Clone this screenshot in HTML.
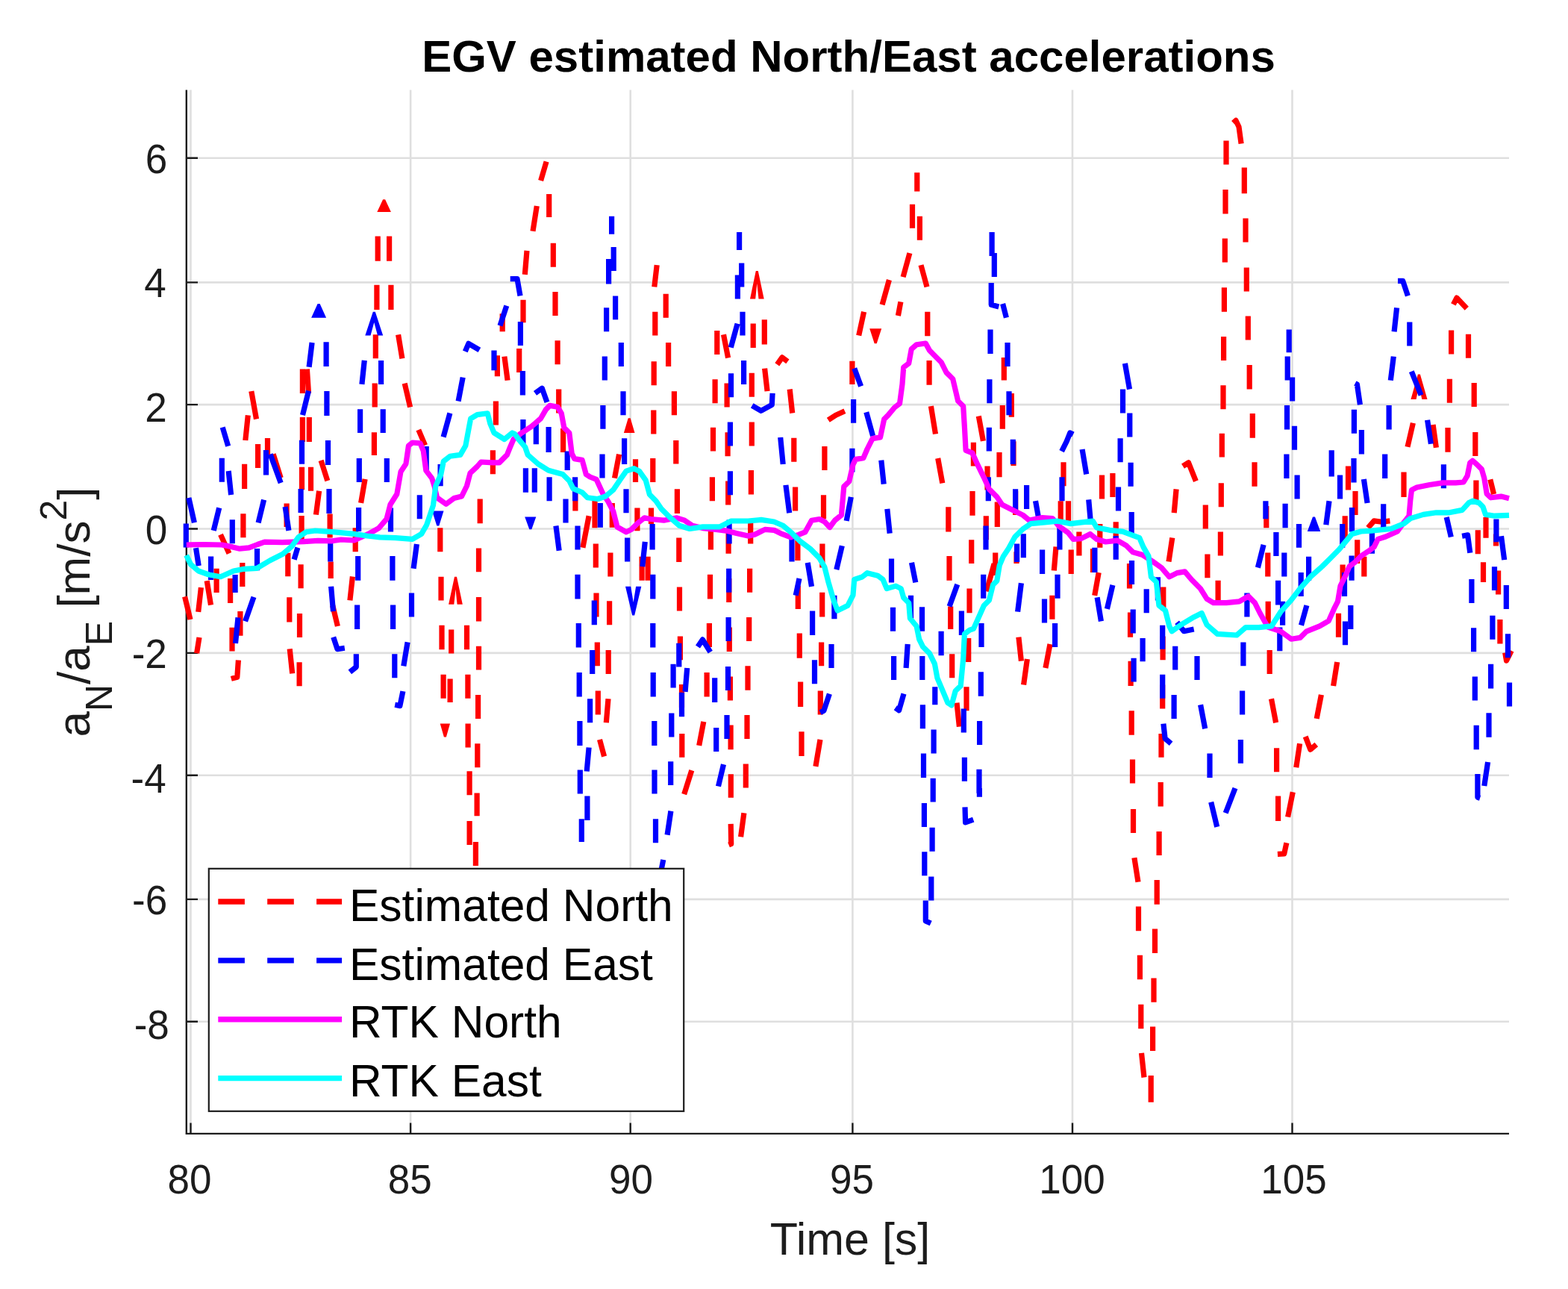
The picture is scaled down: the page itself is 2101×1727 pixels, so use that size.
<!DOCTYPE html><html><head><meta charset="utf-8"><title>EGV estimated North/East accelerations</title><style>html,body{margin:0;padding:0;background:#fff;overflow:hidden}svg{display:block}</style></head><body><svg width="2101" height="1727" viewBox="0 0 2101 1727"><rect width="2101" height="1727" fill="#fff"/><path d="M255.5 120.5V1518.9M550.1 120.5V1518.9M844.7 120.5V1518.9M1142.4 120.5V1518.9M1437.0 120.5V1518.9M1731.5 120.5V1518.9M249.8 1368.7H2022.0M249.8 1204.9H2022.0M249.8 1038.7H2022.0M249.8 874.9H2022.0M249.8 708.5H2022.0M249.8 542.1H2022.0M249.8 378.4H2022.0M249.8 211.8H2022.0" stroke="#dfdfdf" stroke-width="2.6" fill="none"/><path d="M249.8 120.5V1518.9M248.60000000000002 1518.9H2022.0M255.5 1518.9v-14.5M550.1 1518.9v-14.5M844.7 1518.9v-14.5M1142.4 1518.9v-14.5M1437.0 1518.9v-14.5M1731.5 1518.9v-14.5M249.8 1368.7h15.2M249.8 1204.9h15.2M249.8 1038.7h15.2M249.8 874.9h15.2M249.8 708.5h15.2M249.8 542.1h15.2M249.8 378.4h15.2M249.8 211.8h15.2" stroke="#1c1c1c" stroke-width="2.4" fill="none"/><path d="M405.4 494.4L405.4 526.9M411.4 494.4L413.5 526.9M336.8 524.2L343.5 561.5M328.8 590.0L332.3 556.4M405.4 559.1L405.4 592.1M414.3 559.1L414.3 592.1M247.6 799.4L255.0 830.0M265.7 819.9L269.4 787.1M277.2 778.1L282.5 810.6M290.1 761.8L290.1 794.0M308.6 774.9L308.6 807.9M324.8 754.1L324.8 786.1M385.8 740.8L385.8 772.2M403.1 756.2L403.1 788.2M387.8 800.2L387.8 833.5M295.5 716.3L307.0 741.6M384.1 674.4L384.1 706.1M404.5 625.7L404.5 656.3M416.5 625.7L416.5 657.7M423.4 689.6L427.6 657.7M430.1 616.9L438.8 644.1M404.1 691.0L404.1 724.3M345.6 595.1L345.6 627.0M358.5 587.1L358.5 609.7M366.1 608.4L376.2 640.4M327.6 621.7L327.6 655.0M325.9 688.3L325.9 720.3M263.6 875.3L267.0 854.0M311.0 840.7L311.0 872.6M319.4 884.6L317.8 907.2L309.8 909.4M388.2 869.4L391.7 902.4M401.1 887.3L401.1 919.2M401.5 822.0L401.5 854.0M321.9 819.1L321.9 851.8M506.2 316.5L506.2 349.7M521.6 316.5L521.6 349.7M504.9 381.7L504.9 415.0M523.9 381.7L523.9 415.0M503.3 448.3L503.3 480.3M533.6 448.3L538.9 480.3M502.2 513.6L502.2 545.5M542.2 513.6L549.6 545.5M724.6 241.9L732.1 216.6M735.7 260.0L735.7 291.1M714.0 309.8L719.3 276.0M703.3 367.9L706.0 335.9M701.0 401.7L701.0 432.3M695.7 466.9L695.7 498.9M666.4 476.3L666.4 504.2M675.9 477.6L680.1 509.6M673.2 420.3L673.2 444.3M664.4 537.5L664.4 569.5M501.4 579.3L501.4 610.0M483.6 673.9L489.1 641.9M476.2 707.2L476.2 739.2M468.9 804.4L472.4 772.5M445.7 811.1L452.4 839.0M442.1 688.6L442.1 720.5M443.2 752.5L443.2 775.1M589.8 707.2L589.8 739.2M643.2 668.6L643.2 701.3M641.5 734.4L641.5 766.3M641.5 799.9L641.5 832.4M641.5 865.7L641.5 897.6M640.6 930.9L640.6 962.9M639.8 996.2L639.8 1028.2M660.4 603.3L660.4 635.3M591.0 772.7L591.0 804.4M592.0 837.7L592.0 870.2M604.7 843.6L604.7 875.5M625.5 837.7L625.5 870.2M594.1 903.8L594.1 935.7M603.1 909.6L603.1 941.1M626.9 903.8L626.9 935.7M627.1 969.6L627.1 1001.5M560.8 575.9L569.6 596.7M629.1 1033.3L629.1 1065.3M639.1 1062.6L639.1 1093.3M629.1 1099.9L629.1 1131.9M637.4 1127.9L637.4 1159.9M741.3 325.8L741.3 357.7M744.0 391.0L744.0 423.0M747.1 456.3L747.1 488.3M748.7 521.5L748.7 553.5M876.8 384.4L880.2 355.1M892.2 393.7L892.2 425.7M877.8 417.7L877.8 449.6M895.6 459.0L895.6 490.9M876.2 484.3L876.2 516.2M903.4 524.2L903.4 556.2M875.8 549.5L875.8 581.5M960.8 443.0L960.8 474.9M969.5 448.3L975.6 479.5M1009.2 433.6L1009.2 466.1M1024.3 428.3L1024.3 461.6M958.1 508.2L958.1 540.2M974.1 513.6L974.1 545.5M1007.3 499.7L1007.3 531.7M1024.6 493.6L1028.1 524.2M955.5 572.7L955.5 604.6M1007.3 565.5L1007.3 597.5M754.6 574.0L754.6 606.0M770.9 656.6L770.9 684.6M823.5 640.6L829.6 608.6M851.5 615.3L851.5 645.9M874.8 614.0L874.8 645.9M780.9 733.8L789.1 691.2M797.0 669.9L797.0 707.2M820.3 673.9L820.3 706.7M853.9 680.6L853.9 711.2M872.5 680.6L872.5 701.9M798.3 728.5L798.3 760.5M817.9 740.5L817.9 772.5M860.1 745.8L860.1 777.8M868.1 745.8L868.1 777.8M799.0 794.6L799.0 826.5M816.6 805.2L816.6 837.2M800.3 860.4L800.3 892.3M815.2 871.0L815.2 903.0M801.3 925.6L801.3 957.6M812.3 968.2L815.0 936.3M803.5 990.9L809.6 1013.5M905.8 590.0L905.8 621.4M907.4 655.3L907.4 688.0M909.8 720.5L909.8 753.0M910.5 786.6L910.5 818.5M911.4 852.4L911.4 884.3M913.5 917.1L913.5 948.3M913.8 982.9L913.8 1014.8M916.7 1064.1L926.8 1032.2M954.4 639.3L954.4 671.2M952.4 711.2L952.4 736.5M951.5 769.8L951.5 802.6M950.4 835.0L950.4 867.0M947.1 901.1L947.1 933.6M936.7 998.9L942.8 966.9M975.1 579.3L975.1 611.3M975.7 644.6L975.7 676.6M976.1 709.9L976.1 741.8M976.8 775.1L976.8 807.1M977.3 840.4L977.3 872.9M978.4 906.4L978.4 938.4M979.1 971.4L979.1 1004.2M1006.4 630.0L1006.4 662.4M1005.7 696.5L1005.7 728.5M1004.6 761.8L1004.6 793.8M1003.7 827.1L1003.7 859.0M1002.0 892.3L1002.0 924.8M1001.0 958.1L1001.0 990.1M999.3 1023.6L999.3 1055.6M979.3 1037.3L979.3 1068.8M979.2 1103.9L979.7 1130.6L976.5 1131.9M992.6 1121.2L996.9 1089.3M1228.8 231.2L1228.8 256.5M1222.5 273.8L1222.5 305.8M1232.4 289.8L1232.4 321.8M1210.1 371.1L1218.9 339.1M1234.0 355.1L1242.0 384.4M1182.1 408.3L1191.4 375.0M1203.4 423.0L1206.9 404.3M1150.7 449.6L1157.6 417.7M1242.8 417.7L1242.8 450.2M1245.1 482.9L1245.1 515.7M1247.4 544.2L1253.5 581.5M1141.9 483.7L1141.9 514.9M1109.8 562.8L1119.9 556.2L1131.9 550.8M1058.2 521.5L1061.7 553.5M1041.3 488.3L1048.0 478.9L1055.4 484.3M1311.3 557.5L1317.4 590.8M1063.8 586.8L1063.8 618.8M1104.9 598.0L1104.9 630.0M1065.6 652.6L1065.6 684.6M1103.5 663.2L1103.5 695.2M1068.9 720.5L1068.9 751.1M1101.9 728.5L1101.9 760.5M1069.3 784.4L1069.3 815.9M1101.7 793.8L1101.7 826.5M1071.3 848.4L1071.3 881.7M1100.6 860.4L1100.6 892.3M1072.6 913.6L1072.6 946.9M1099.3 925.6L1099.3 957.6M1074.0 980.2L1074.0 1013.0M1092.9 1026.8L1099.0 990.9M1256.7 614.0L1262.8 647.3M1270.8 679.2L1270.8 712.5M1272.0 745.0L1272.0 777.8M1273.7 812.4L1273.7 843.0M1275.7 876.3L1275.7 908.3M1282.0 941.6L1285.4 973.6M1295.0 920.3L1295.0 952.2M1297.7 855.0L1297.7 887.0M1299.0 788.4L1299.0 821.2M1301.7 723.2L1301.7 755.1M1303.0 657.9L1303.0 690.7M1304.4 592.7L1304.4 624.6M1321.3 691.2L1321.3 723.2M1323.0 624.6L1323.0 656.6M1321.9 792.4L1332.1 755.1M1333.7 740.5L1333.7 771.1M1339.0 606.0L1339.0 639.3M1336.3 672.6L1336.3 705.9M1345.3 478.9L1345.3 509.6M1355.3 526.9L1355.3 558.8M1343.3 542.9L1343.3 574.8M1358.0 591.3L1358.0 624.1M1360.6 657.9L1360.6 689.9M1362.0 739.2L1362.0 755.1M1364.9 853.7L1368.4 885.7M1371.6 917.6L1376.4 883.0M1425.0 619.3L1425.0 651.3M1421.2 671.2L1421.2 701.9M1431.5 671.2L1431.5 703.2M1412.3 764.5L1415.0 732.5M1435.2 736.5L1435.2 769.0M1409.9 797.8L1409.9 829.7M1400.9 895.0L1407.0 863.0M1445.9 712.5L1445.9 744.5M1476.5 636.6L1476.5 668.6M1490.9 633.9L1490.9 665.9M1464.5 735.2L1464.5 767.1M1466.7 797.8L1472.2 767.1M1473.8 701.9L1473.8 733.8M1495.2 699.2L1495.2 723.2M1513.5 755.1L1513.5 788.4M1514.5 820.4L1514.5 853.7M1515.1 885.7L1515.1 919.0M1516.2 952.2L1516.2 984.7M1517.5 1017.5L1517.5 1049.5M1558.8 786.6L1558.8 817.7M1558.1 852.4L1558.1 884.3M1557.7 917.6L1557.7 949.6M1556.0 982.9L1556.0 1014.8M1585.0 624.6L1592.5 619.8L1602.4 644.6M1573.2 687.2L1576.1 655.3M1566.0 752.5L1570.8 720.5M1615.3 676.6L1615.3 708.5M1617.9 742.4L1617.9 774.3M1632.1 777.8L1632.1 810.5M1635.4 712.5L1635.4 744.5M1636.3 647.3L1636.3 679.2M1637.3 580.7L1637.3 612.6M1518.5 1083.9L1518.5 1115.9M1519.9 1149.2L1525.0 1181.7M1525.5 1214.5L1525.5 1247.2M1527.4 1279.7L1527.4 1312.2M1528.8 1345.8L1528.8 1378.3M1529.5 1410.8L1533.0 1443.5M1555.2 1048.0L1555.2 1080.5M1553.1 1114.0L1553.1 1146.0M1550.2 1179.0L1550.2 1211.8M1547.5 1244.6L1547.5 1277.1M1546.0 1310.4L1546.0 1342.8M1544.6 1375.6L1544.6 1408.1M1542.2 1440.9L1542.2 1476.8M1643.0 188.6L1643.0 220.6M1642.0 253.9L1642.0 286.6M1641.3 319.6L1641.3 351.6M1640.4 385.2L1640.4 417.7M1639.6 451.0L1639.6 482.9M1639.0 516.2L1639.0 548.2M1652.5 164.6L1656.0 161.4L1660.0 170.0L1663.1 192.6M1667.3 224.6L1667.3 259.2M1669.0 292.5L1669.0 324.4M1670.3 358.5L1670.3 390.5M1672.3 423.5L1672.3 455.5M1674.2 489.1L1674.2 521.5M1678.3 554.0L1678.3 586.8M1886.0 598.8L1893.4 566.8M1681.0 619.3L1681.0 651.8M1696.8 677.9L1696.8 707.2M1698.8 740.5L1698.8 772.5M1699.2 805.7L1699.2 837.7M1701.2 871.0L1701.2 903.0M1703.5 936.3L1709.6 968.2M1710.6 1002.3L1710.6 1034.3M1736.8 1028.2L1741.6 996.2M1749.2 986.9L1755.8 1004.2L1763.8 997.5M1764.2 962.9L1770.4 930.9M1786.6 919.0L1791.7 887.0M1793.5 821.7L1793.5 853.7M1799.1 756.5L1799.1 788.4M1802.2 691.2L1802.2 723.2M1806.5 624.6L1806.5 656.6M1816.0 657.9L1816.0 689.9M1818.7 723.2L1818.7 755.1M1827.8 745.8L1827.8 772.5M1833.1 707.2L1841.1 697.9L1851.7 699.2L1862.4 697.9M1881.0 632.6L1881.0 665.9M1712.6 1066.6L1712.6 1099.9M1725.6 1094.6L1732.3 1061.3M1723.9 1129.2L1720.7 1143.9L1711.9 1144.4M1947.4 407.9L1951.9 399.1L1965.3 413.2M1944.6 442.5L1944.6 474.5M1967.5 447.8L1967.5 479.8M1942.4 507.8L1942.4 539.7M1975.2 513.1L1975.2 545.0M1940.0 573.0L1940.0 605.8M1976.8 579.1L1976.8 611.1M1977.9 643.6L1977.9 670.2M1996.8 642.3L2001.6 662.2M1991.0 692.9L1991.0 720.8M1980.3 710.2L1980.3 742.2M2004.5 715.5L2004.5 731.5M1920.1 569.0L1924.4 599.7M1987.5 753.3L1987.5 780.0M2007.6 764.5L2007.6 796.5M2009.9 830.0L2009.9 862.5M2016.7 874.5L2018.5 885.2L2025.2 871.8" stroke="#ff0000" stroke-width="7.2" fill="none" stroke-linejoin="round"/><path d="M505.3 284.0L513.1 267.2L516.1 267.2L523.9 284.0ZM601.1 809.7L609.0 772.7L612.0 772.7L619.8 809.7L612.6 809.7L610.5 789.4L608.3 809.7ZM589.7 969.6L594.9 987.4L597.9 987.4L603.0 969.6ZM835.9 580.1L841.7 560.2L844.7 560.2L850.5 580.1ZM1005.0 400.4L1012.8 363.1L1015.8 363.1L1023.7 400.4L1016.5 400.4L1014.3 379.8L1012.2 400.4ZM1165.2 440.3L1171.7 460.3L1174.7 460.3L1181.2 440.3ZM1890.4 534.9L1899.9 501.6L1902.9 501.6L1912.5 534.9L1905.3 534.9L1901.4 516.6L1897.6 534.9Z" fill="#ff0000"/><path d="M414.1 491.7L418.1 459.0M405.5 556.2L413.5 523.7M437.1 458.2L437.1 490.9M437.9 523.9L437.9 557.0M298.2 572.4L305.7 597.7M404.5 589.7L404.5 621.7M403.1 655.0L403.1 687.0M297.3 613.7L297.3 645.7M306.2 631.0L309.6 663.0M356.5 603.1L356.5 636.4M362.1 608.4L376.2 647.0M346.1 700.3L353.6 669.7M382.1 679.0L386.9 710.9M286.2 710.9L293.7 680.3M311.3 696.3L311.3 728.3M252.9 667.0L260.4 700.3M249.3 701.6L249.3 733.6M439.5 590.0L439.5 623.0M441.0 655.0L441.0 688.0M262.5 734.1L266.2 758.1M282.6 745.6L282.6 777.0M315.1 770.1L315.1 794.0M344.5 734.9L344.5 764.2M394.1 749.6L398.9 733.6M328.6 832.4L340.0 799.9M315.5 862.0L319.0 827.3M484.9 514.9L488.3 482.9M510.6 482.9L510.6 514.9M482.6 548.2L482.6 580.1M513.2 548.2L513.2 580.1M614.1 537.5L620.2 505.6M594.1 585.5L602.9 553.5M623.3 470.9L627.8 460.3L642.4 468.8M683.7 373.7L693.0 373.7L697.0 396.4M670.0 436.3L678.8 409.7M697.4 431.0L697.4 462.9M662.0 469.6L662.0 496.2M700.4 497.0L700.4 529.5M717.0 526.9L726.3 520.2L733.0 538.9M700.9 562.0L700.9 594.8M442.7 723.2L442.7 752.5M443.6 785.8L446.5 819.1M446.7 853.7L452.0 869.7L461.8 868.3M481.3 614.0L481.3 645.9M518.3 614.0L518.3 645.9M480.6 680.0L480.6 712.0M523.5 680.6L523.5 712.5M479.7 745.0L479.7 777.8M525.9 745.0L525.9 777.8M478.6 810.5L478.6 843.0M526.6 810.5L526.6 843.0M477.3 876.3L477.3 893.6L468.8 900.3M528.8 876.3L528.8 908.3M539.9 926.1L535.9 945.6L529.2 944.3M540.8 892.3L546.1 860.4M551.5 794.6L551.5 826.5M554.1 761.8L558.4 729.0M562.3 663.2L562.3 695.2M571.2 598.0L571.2 630.0M590.1 622.0L590.1 651.3M704.4 627.3L704.4 659.8M716.3 627.3L716.3 659.8M736.1 639.3L736.1 671.2M718.3 567.1L718.3 595.3M735.1 571.9L735.1 606.0M819.6 289.8L819.6 313.8M815.6 347.1L815.6 380.4M822.2 331.1L822.2 363.1M812.6 412.3L812.6 444.3M824.6 396.4L824.6 428.3M810.3 477.6L810.3 509.6M832.3 459.0L832.3 490.9M807.9 542.9L807.9 574.8M835.0 524.2L835.0 556.2M990.6 311.1L990.6 335.1M988.4 368.4L988.4 400.4M993.7 352.4L993.7 384.4M979.3 465.6L988.1 433.6M995.0 417.7L995.0 449.6M979.5 500.2L979.5 532.2M996.6 482.9L996.6 514.9M978.4 565.5L978.4 597.5M1007.7 543.4L1019.7 550.3L1034.3 542.3L1035.1 526.9M760.2 604.6L760.2 630.0M770.6 639.3L770.6 671.2M758.0 668.6L758.0 700.5M744.9 704.5L749.2 737.8M774.0 704.5L774.0 736.5M807.0 608.6L807.0 640.6M804.3 673.9L804.3 706.7M836.6 587.3L836.6 622.0M839.0 655.3L839.0 687.2M840.6 720.5L840.6 752.5M860.8 759.1L864.3 725.8M874.1 701.9L874.1 736.5M874.8 769.8L874.8 802.6M774.0 769.8L774.0 802.6M796.3 804.4L796.3 837.2M775.3 835.0L775.3 867.5M874.8 835.0L874.8 867.5M793.7 871.0L793.7 903.0M776.2 901.1L776.2 933.6M875.2 901.1L875.2 933.6M790.6 936.3L790.6 968.2M776.9 966.1L776.9 998.9M876.8 966.1L876.8 998.9M786.2 1033.5L789.1 1001.5M777.3 1031.6L777.3 1063.6M877.0 1031.6L877.0 1063.6M898.7 1020.2L898.7 1052.1M909.8 861.7L909.8 893.6M902.1 889.7L902.1 921.6M918.1 926.9L920.7 895.0M913.5 927.7L913.5 960.2M899.8 955.4L899.8 987.4M935.0 866.5L941.4 856.9L951.8 873.7M957.7 908.3L957.7 941.1M959.7 974.9L959.7 1006.9M962.5 1053.5L969.5 1024.2M978.4 631.3L978.4 663.2M977.1 696.5L977.1 728.5M976.7 761.8L976.7 793.8M976.1 827.1L976.1 859.0M975.5 893.1L975.5 925.1M974.0 958.1L974.0 990.1M786.9 1066.6L786.9 1099.1M779.3 1097.3L779.3 1127.9M878.5 1097.3L878.5 1129.2M894.1 1118.6L898.9 1086.6M882.1 1185.2L888.8 1151.9M1329.1 311.1L1329.1 343.1M1332.3 339.1L1332.3 371.1M1328.2 379.0L1328.2 408.3L1338.3 411.0M1327.0 441.6L1327.0 474.1M1325.9 508.2L1325.9 540.2M1325.3 572.7L1325.3 604.6M1144.8 493.6L1153.6 517.6M1143.6 534.9L1143.6 566.8M1160.8 552.2L1169.6 584.1M1045.7 586.0L1049.2 622.0M1052.9 649.9L1057.7 687.2M1061.0 721.8L1061.0 752.5M1082.2 753.8L1087.5 785.8M1066.2 797.8L1071.0 775.1M1088.6 818.5L1088.6 851.0M1091.5 884.3L1091.5 916.3M1099.1 954.4L1103.9 952.2L1111.4 929.6M1114.0 863.0L1114.0 895.0M1117.9 797.8L1117.9 829.2M1120.8 763.1L1128.3 731.2M1134.2 697.9L1140.3 665.9M1141.9 600.7L1141.9 632.6M1180.8 616.6L1184.2 648.6M1188.8 681.9L1192.2 714.7M1194.5 748.5L1194.5 780.4M1196.5 813.7L1196.5 845.7M1197.6 879.0L1197.6 911.0M1199.8 948.3L1204.6 951.7L1211.0 929.6M1214.1 895.0L1216.2 863.0M1221.5 753.8L1226.8 780.4M1220.5 797.8L1220.5 829.7M1235.5 813.2L1235.5 845.7M1235.8 879.0L1235.8 911.0M1236.4 944.3L1236.4 976.2M1237.5 1009.5L1237.5 1042.0M1251.1 977.6L1251.1 1009.5M1252.8 920.3L1252.8 944.3M1261.1 845.7L1261.1 878.2M1272.1 812.4L1282.8 783.1M1288.4 818.5L1288.4 851.0M1291.3 949.6L1291.3 981.5M1292.4 1014.8L1292.4 1046.8M1315.0 835.0L1315.0 867.0M1314.3 900.3L1314.3 932.8M1312.6 966.1L1312.6 998.1M1312.0 1030.8L1312.0 1062.8M1317.7 769.8L1317.7 801.8M1321.0 704.5L1321.0 736.5M1324.3 639.3L1324.3 671.2M1250.2 1042.7L1250.2 1074.6M1238.4 1076.0L1238.4 1107.9M1249.1 1108.7L1249.1 1140.7M1238.8 1141.2L1238.8 1173.2M1247.8 1174.5L1247.8 1206.5M1240.3 1206.5L1240.3 1233.9L1247.2 1237.1M1293.0 1081.3L1293.6 1101.8L1304.2 1098.1M1312.4 1056.0L1312.4 1067.7M1343.6 407.0L1348.4 425.7M1350.0 459.0L1350.0 490.9M1352.0 524.2L1352.0 556.2M1507.4 486.9L1513.5 521.5M1504.5 521.5L1504.5 553.5M1513.8 553.5L1513.8 585.5M1357.3 588.7L1357.3 622.0M1360.6 655.3L1360.6 687.2M1375.6 649.9L1375.6 681.9M1387.5 671.2L1391.8 695.2M1371.3 715.2L1371.3 747.2M1362.6 728.5L1362.6 753.0M1363.6 819.6L1368.4 781.2M1396.6 736.5L1396.6 769.0M1399.5 802.6L1399.5 834.5M1417.0 769.8L1417.0 801.8M1413.6 835.0L1413.6 867.0M1419.9 704.5L1419.9 736.5M1423.0 639.3L1423.0 671.2M1422.6 604.6L1429.2 591.3L1433.8 579.9L1438.0 582.0M1450.1 602.0L1455.7 635.3M1458.7 669.4L1461.6 701.9M1466.9 733.8L1466.9 767.1M1470.1 800.4L1475.4 832.4M1483.4 815.9L1490.9 783.9M1501.1 587.3L1501.1 619.3M1498.5 652.6L1498.5 684.6M1495.2 717.9L1495.2 749.8M1515.1 619.8L1515.1 651.8M1516.2 685.9L1516.2 715.2M1516.5 751.1L1516.5 783.1M1518.2 816.4L1518.2 848.4M1519.1 881.7L1519.1 913.6M1531.1 855.0L1531.1 886.2M1536.2 789.2L1536.2 821.2M1551.4 773.3L1551.4 804.4M1557.7 837.7L1557.7 869.7M1557.7 903.8L1557.7 935.7M1558.9 969.6L1561.1 989.5L1569.1 996.2M1574.7 865.7L1574.7 897.6M1573.1 930.9L1573.1 962.9M1577.1 833.7L1586.4 845.7L1599.7 843.0M1604.0 879.0L1604.0 911.0M1608.6 944.3L1614.7 976.2M1621.0 1009.5L1621.0 1042.0M1622.7 1074.6L1630.7 1107.9M1727.2 441.6L1727.2 472.3M1725.2 477.6L1725.2 509.6M1731.6 505.6L1731.6 537.5M1724.5 542.9L1724.5 575.4M1734.5 570.8L1734.5 602.8M1815.8 513.6L1818.4 514.9L1822.4 542.3M1814.4 548.7L1814.4 580.7M1873.0 376.4L1879.7 376.4L1886.4 396.4M1868.1 444.3L1871.6 412.3M1888.8 431.5L1888.8 463.5M1863.3 509.6L1867.3 477.6M1861.1 542.9L1861.1 575.4M1912.6 562.8L1917.4 594.8M1891.3 497.6L1904.1 529.5M1723.9 608.6L1723.9 641.1M1738.1 636.6L1738.1 668.6M1722.1 674.7L1722.1 707.2M1740.5 701.9L1740.5 733.8M1709.9 713.1L1709.9 745.0M1720.8 740.5L1720.8 772.5M1712.6 777.8L1712.6 810.5M1718.6 805.7L1718.6 837.7M1714.8 840.4L1714.8 872.3M1695.9 671.2L1695.9 695.2M1685.4 760.5L1693.1 729.8M1670.9 794.6L1670.9 826.5M1665.9 860.4L1665.9 892.3M1664.6 925.6L1664.6 957.6M1662.4 990.9L1662.4 1022.8M1776.8 703.2L1781.0 671.2M1784.2 603.3L1784.2 638.5M1795.5 636.6L1795.5 668.6M1814.0 614.0L1814.0 646.5M1824.4 576.1L1824.4 608.6M1827.4 641.9L1832.1 673.9M1853.7 675.2L1853.7 707.2M1855.7 608.6L1855.7 641.1M1811.5 680.0L1811.5 712.5M1798.7 701.9L1798.7 733.8M1753.6 745.8L1753.6 777.8M1743.2 767.1L1743.2 799.1M1743.5 837.7L1750.9 811.1M1811.1 744.5L1811.1 777.8M1801.5 767.1L1801.5 799.1M1809.8 811.1L1809.8 843.0M1802.5 832.4L1802.5 864.3M1838.4 709.9L1838.4 741.8M1642.2 1089.3L1655.0 1056.0M1934.4 622.3L1934.4 654.3M1938.2 692.9L1944.3 719.5M1959.1 718.2L1966.6 716.9L1969.8 740.8M2004.9 695.5L2004.9 726.2M2011.5 718.2L2015.7 750.1M1971.9 776.0L1971.9 807.9M1974.6 841.2L1974.6 873.2M1976.3 906.5L1976.3 938.4M1978.2 971.7L1978.2 1004.2M1979.9 1037.0L1979.9 1068.2L1983.1 1069.2M1988.8 1053.0L1993.6 1021.0M1995.0 955.2L1995.0 987.7M1997.6 889.7L1997.6 922.5M1999.9 824.7L1999.9 856.7M2002.5 759.2L2002.5 791.1M2018.3 783.9L2018.3 815.9M2020.5 849.2L2020.5 881.2M2022.5 914.5L2022.5 946.4" stroke="#0000ff" stroke-width="7.2" fill="none" stroke-linejoin="round"/><path d="M417.1 425.7L425.6 407.0L428.6 407.0L437.1 425.7ZM489.3 449.6L499.8 417.7L502.8 417.7L513.2 449.6L506.0 449.6L501.3 432.0L496.5 449.6ZM579.0 684.6L585.3 704.5L588.3 704.5L594.5 684.6ZM703.2 692.5L709.3 709.3L712.3 709.3L718.3 692.5ZM838.0 785.8L847.2 824.4L850.2 824.4L859.3 785.8L852.1 785.8L848.7 807.0L845.2 785.8ZM1751.8 712.0L1759.0 692.5L1762.0 692.5L1769.2 712.0Z" fill="#0000ff"/><path d="M249.8 730.0L273.6 729.5L297.4 730.0L311.7 732.9L321.2 735.2L333.6 733.8L345.0 729.5L354.5 726.2L378.3 726.7L406.9 725.7L426.0 724.3L445.0 724.8L457.0 723.0L474.5 724.0L495.3 714.5L507.5 707.6L518.0 695.4L523.0 676.0L531.8 662.0L537.0 632.0L543.9 621.6L547.4 597.3L552.6 593.0L563.0 593.8L567.3 604.2L570.8 630.3L578.6 640.7L582.0 651.0L585.6 666.8L597.7 675.4L608.2 667.6L618.6 665.0L625.5 651.0L630.0 633.8L639.4 625.0L644.6 619.0L660.3 619.9L669.0 619.9L679.4 609.4L682.9 600.7L688.0 588.6L696.8 581.6L712.4 571.2L724.5 560.8L731.5 548.6L736.7 543.4L747.1 545.2L752.3 553.8L755.8 573.0L762.8 580.0L766.2 607.7L769.7 614.6L780.1 616.4L785.3 635.5L790.6 639.0L799.2 642.4L807.9 661.5L814.9 672.0L821.7 685.0L827.0 706.0L839.1 712.9L846.0 709.4L854.7 700.7L863.4 693.8L872.1 695.5L889.5 697.2L906.9 693.8L917.3 697.2L927.7 704.2L941.6 707.6L959.0 709.4L972.9 711.1L986.8 714.6L1002.4 718.1L1011.1 716.3L1025.0 709.4L1037.1 710.3L1045.8 714.6L1059.7 719.8L1070.1 716.3L1078.8 712.9L1087.5 697.2L1097.9 695.5L1104.9 699.0L1111.8 706.5L1118.7 697.1L1127.4 690.1L1130.8 651.9L1137.8 645.0L1143.0 622.4L1146.5 615.4L1156.9 613.7L1162.1 601.5L1169.1 587.6L1179.5 585.9L1184.7 561.6L1189.9 556.4L1198.6 546.0L1205.5 540.7L1209.0 514.7L1210.7 492.1L1217.7 486.9L1221.2 467.8L1228.1 461.7L1240.3 460.0L1245.5 469.5L1252.4 476.5L1261.1 485.2L1268.1 499.1L1276.7 507.7L1283.7 537.3L1290.7 544.2L1292.4 572.0L1294.1 603.3L1302.8 606.8L1309.8 622.4L1318.4 639.8L1325.4 655.4L1335.8 665.8L1342.8 676.2L1356.7 683.2L1370.6 690.1L1379.2 697.1L1396.6 693.6L1410.4 694.7L1419.1 705.1L1431.3 713.8L1438.2 722.5L1448.6 721.6L1460.8 715.5L1469.5 722.5L1481.6 726.0L1497.3 724.2L1509.4 731.2L1518.1 739.9L1530.3 743.3L1544.2 752.0L1556.3 760.7L1566.8 772.9L1577.2 767.6L1587.6 765.9L1596.3 776.3L1608.4 788.5L1617.1 802.4L1625.8 807.6L1643.2 807.6L1660.6 805.9L1672.7 798.9L1681.4 807.6L1688.3 821.5L1698.7 840.0L1716.0 845.8L1730.0 856.2L1742.1 854.4L1750.8 845.8L1768.2 838.8L1780.3 831.9L1787.3 816.2L1792.5 805.8L1796.0 785.0L1802.9 771.1L1808.1 758.9L1815.1 753.7L1823.7 745.0L1834.2 738.1L1841.1 732.9L1846.3 722.4L1856.8 719.0L1872.4 712.0L1881.1 699.9L1888.0 691.2L1889.8 670.3L1891.5 656.4L1898.4 653.0L1915.8 649.5L1933.2 646.9L1950.5 646.9L1961.0 646.0L1966.2 637.3L1969.7 620.0L1973.1 617.3L1978.4 621.7L1985.3 628.6L1988.8 640.8L1992.2 661.6L1997.5 666.8L2011.3 665.1L2022.0 667.7" stroke="#ff00ff" stroke-width="7.2" fill="none" stroke-linejoin="round"/><path d="M249.6 744.0L255.6 756.2L266.0 765.0L280.0 770.0L295.6 772.7L313.0 765.0L326.9 762.3L344.2 761.4L361.6 751.0L379.0 742.3L391.0 732.0L399.8 719.8L410.2 712.8L422.4 711.0L448.4 712.8L474.5 715.4L491.9 718.0L509.0 719.8L530.0 720.6L552.6 722.3L564.7 715.4L571.7 703.2L575.2 692.8L580.4 677.2L583.8 651.1L590.8 635.5L594.3 618.1L603.0 611.2L616.8 609.4L623.8 597.3L629.0 569.5L630.7 560.8L639.4 555.6L653.3 553.8L656.8 567.7L662.0 579.9L675.9 588.6L686.3 579.9L689.8 581.6L695.0 588.6L703.7 599.0L707.2 609.4L721.1 621.6L735.0 630.3L754.1 635.5L762.8 644.2L768.0 654.6L780.1 659.8L787.1 666.8L801.0 668.5L811.4 665.0L821.8 656.3L830.4 643.4L839.1 631.2L849.5 627.7L856.5 631.2L865.2 643.4L870.4 662.5L879.0 671.2L886.0 681.6L896.4 692.0L910.3 704.2L924.2 708.5L941.6 705.9L964.2 705.9L979.8 698.0L1002.4 698.0L1019.8 696.4L1037.1 699.0L1049.3 704.2L1061.4 714.6L1071.9 725.0L1085.8 735.4L1097.9 747.6L1104.9 759.8L1110.0 780.0L1117.0 804.2L1122.2 818.1L1136.0 811.2L1143.0 797.3L1144.7 776.4L1155.2 773.0L1162.1 767.7L1176.0 771.2L1183.0 776.4L1188.2 788.6L1200.3 785.1L1207.3 788.6L1210.7 800.7L1217.7 807.7L1219.4 828.5L1228.1 839.0L1231.6 856.3L1236.8 866.8L1245.5 875.4L1252.4 889.3L1255.9 908.4L1261.1 920.6L1269.8 941.4L1275.0 944.9L1280.2 925.8L1287.2 918.9L1290.7 882.4L1292.4 849.4L1299.3 844.2L1304.5 842.4L1311.5 826.8L1318.4 811.2L1325.4 804.2L1330.6 783.4L1335.8 778.2L1339.3 757.3L1344.5 745.2L1351.5 734.7L1360.1 719.1L1370.6 708.7L1381.0 701.7L1400.0 699.9L1417.4 698.2L1434.7 701.6L1464.3 698.2L1469.5 706.9L1486.9 710.3L1504.2 712.1L1518.1 717.3L1526.8 720.7L1532.0 732.9L1539.0 745.1L1542.4 772.9L1549.4 779.8L1552.9 811.1L1561.5 818.0L1566.8 838.9L1570.2 845.8L1582.4 837.1L1599.8 826.7L1610.2 821.5L1617.1 837.1L1631.0 849.3L1657.1 851.0L1669.2 840.6L1686.6 840.6L1703.9 838.8L1716.0 819.7L1730.0 804.1L1742.1 788.4L1756.0 772.8L1771.6 758.9L1782.1 748.5L1794.2 736.3L1802.9 725.9L1811.6 715.5L1823.7 712.0L1837.6 711.1L1863.7 708.5L1881.1 701.6L1889.8 694.6L1907.1 689.4L1924.5 686.8L1941.9 686.8L1959.2 683.4L1967.9 673.8L1973.1 671.2L1981.8 673.8L1987.0 679.0L1990.5 689.4L2002.7 691.2L2022.0 690.3" stroke="#00ffff" stroke-width="7.2" fill="none" stroke-linejoin="round"/><g font-family="Liberation Sans, Arial, sans-serif" font-size="53" fill="#1c1c1c"><text transform="translate(253.9 1599) scale(1 1.05)" text-anchor="middle">80</text><text transform="translate(549.3 1599) scale(1 1.05)" text-anchor="middle">85</text><text transform="translate(845.5 1599) scale(1 1.05)" text-anchor="middle">90</text><text transform="translate(1141.4 1599) scale(1 1.05)" text-anchor="middle">95</text><text transform="translate(1436.4 1599) scale(1 1.05)" text-anchor="middle">100</text><text transform="translate(1733.5 1599) scale(1 1.05)" text-anchor="middle">105</text><text transform="translate(226.8 1391.7) scale(1 1.05)" text-anchor="end">-8</text><text transform="translate(224.2 1224.9) scale(1 1.05)" text-anchor="end">-6</text><text transform="translate(222.6 1061.7) scale(1 1.05)" text-anchor="end">-4</text><text transform="translate(223.8 894.9) scale(1 1.05)" text-anchor="end">-2</text><text transform="translate(224.1 728.5) scale(1 1.05)" text-anchor="end">0</text><text transform="translate(223.8 565.1) scale(1 1.05)" text-anchor="end">2</text><text transform="translate(222.6 398.4) scale(1 1.05)" text-anchor="end">4</text><text transform="translate(224.2 231.8) scale(1 1.05)" text-anchor="end">6</text></g><text x="1137" y="96.3" text-anchor="middle" font-family="Liberation Sans, Arial, sans-serif" font-weight="bold" font-size="60" fill="#000">EGV estimated North/East accelerations</text><text x="1139" y="1680.6" text-anchor="middle" font-family="Liberation Sans, Arial, sans-serif" font-size="61" fill="#1c1c1c">Time [s]</text><text transform="translate(119.8 820) rotate(-90)" text-anchor="middle" font-family="Liberation Sans, Arial, sans-serif" font-size="62" fill="#1c1c1c">a<tspan font-size="50" dy="30">N</tspan><tspan dy="-30">/a</tspan><tspan font-size="50" dy="30">E</tspan><tspan dy="-30"> [m/s</tspan><tspan font-size="50" dy="-31">2</tspan><tspan dy="31">]</tspan></text><rect x="279.8" y="1163.8" width="636.4" height="325.0" fill="#fff" stroke="#1c1c1c" stroke-width="2.2"/><path d="M292.3 1208.0H458.1" stroke="#ff0000" stroke-width="7.4" stroke-dasharray="35.6 30.3" fill="none"/><text x="468" y="1234.3" font-family="Liberation Sans, Arial, sans-serif" font-size="60.5" fill="#000">Estimated North</text><path d="M292.3 1286.9H458.1" stroke="#0000ff" stroke-width="7.4" stroke-dasharray="35.6 30.3" fill="none"/><text x="468" y="1313.2" font-family="Liberation Sans, Arial, sans-serif" font-size="60.5" fill="#000">Estimated East</text><path d="M292.3 1365.8H458.1" stroke="#ff00ff" stroke-width="7.4" fill="none"/><text x="468" y="1389.8" font-family="Liberation Sans, Arial, sans-serif" font-size="60.5" fill="#000">RTK North</text><path d="M292.3 1444.6H458.1" stroke="#00ffff" stroke-width="7.4" fill="none"/><text x="468" y="1468.7" font-family="Liberation Sans, Arial, sans-serif" font-size="60.5" fill="#000">RTK East</text></svg></body></html>
